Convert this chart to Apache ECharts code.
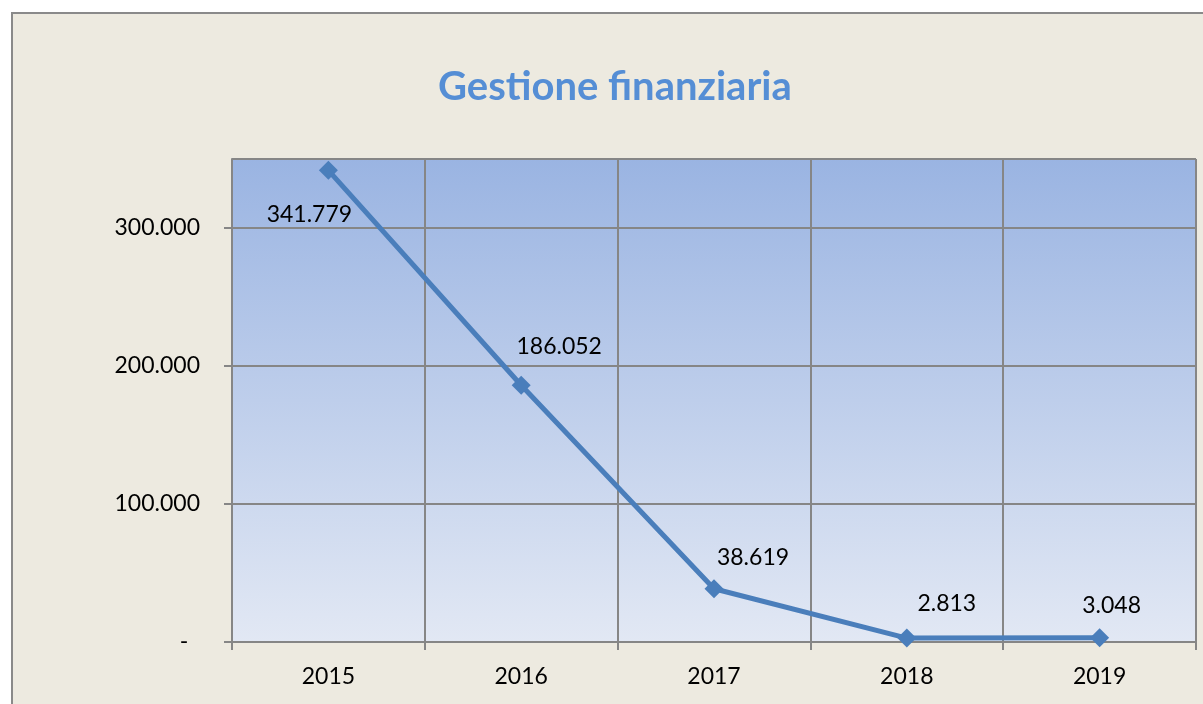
<!DOCTYPE html>
<html><head><meta charset="utf-8">
<script src="https://cdn.jsdelivr.net/npm/echarts@6/dist/echarts.min.js"></script>
<style>html,body{margin:0;padding:0;background:#fff;}#c{width:1203px;height:704px;}</style>
</head><body><div id="c"></div>
<script>
const categories = ['2015', '2016', '2017', '2018', '2019'];
const values = [341779, 186052, 38619, 2813, 3048];
const yTicks = [0, 100000, 200000, 300000];
const titleText = 'Gestione finanziaria';

function fmt(v) {
  if (v === 0) return '-  ';
  return String(v).replace(/\B(?=(\d{3})+(?!\d))/g, '.');
}
const labelOffsets = [[-19, 77], [38, -6], [39, 2], [40, -2], [12, 1]];

const chart = echarts.init(document.getElementById('c'));
chart.setOption({
  backgroundColor: '#ffffff',
  animation: false,
  graphic: [{
    type: 'rect', z: -10, silent: true,
    shape: { x: 12, y: 13, width: 1250, height: 750 },
    style: { fill: '#EDEAE0', stroke: '#8A8A8A', lineWidth: 2 }
  }],
  title: {
    text: titleText, left: 433, top: 62,
    textStyle: { fontFamily: 'Lato', fontWeight: 'bold', fontSize: 40, color: '#558ED5' }
  },
  grid: {
    left: 232, top: 159, right: 7, bottom: 62, show: true, borderWidth: 0,
    backgroundColor: new echarts.graphic.LinearGradient(0, 0, 0, 1, [
      { offset: 0, color: '#9AB4E2' }, { offset: 1, color: '#E2E8F4' }
    ])
  },
  xAxis: {
    type: 'category', data: categories, boundaryGap: true,
    axisLine: { lineStyle: { color: '#868686', width: 2 } },
    axisTick: { show: true, length: 8, lineStyle: { color: '#868686', width: 2 } },
    splitLine: { show: true, interval: 0, lineStyle: { color: '#868686', width: 2 } },
    axisLabel: { margin: 23, fontFamily: 'Lato', fontSize: 23, color: '#000' }
  },
  yAxis: {
    type: 'value', min: 0, max: 350000, interval: 100000,
    axisLine: { show: true, lineStyle: { color: '#868686', width: 2 } },
    axisTick: { show: true, length: 8, lineStyle: { color: '#868686', width: 2 } },
    splitLine: { show: true, lineStyle: { color: '#868686', width: 2 } },
    axisLabel: {
      margin: 32, fontFamily: 'Lato', fontSize: 23, color: '#000',
      showMaxLabel: false,
      formatter: v => yTicks.indexOf(v) >= 0 ? fmt(v) : ''
    }
  },
  series: [{
    type: 'line',
    data: values.map((v, i) => ({ value: v, label: { offset: labelOffsets[i] } })),
    symbol: 'diamond', symbolSize: 19,
    lineStyle: { color: '#4A7EBB', width: 5 },
    itemStyle: { color: '#4A7EBB' },
    label: {
      show: true, position: 'top', distance: 12,
      fontFamily: 'Lato', fontSize: 23, color: '#000',
      formatter: p => fmt(p.value)
    }
  }]
});
</script></body></html>
